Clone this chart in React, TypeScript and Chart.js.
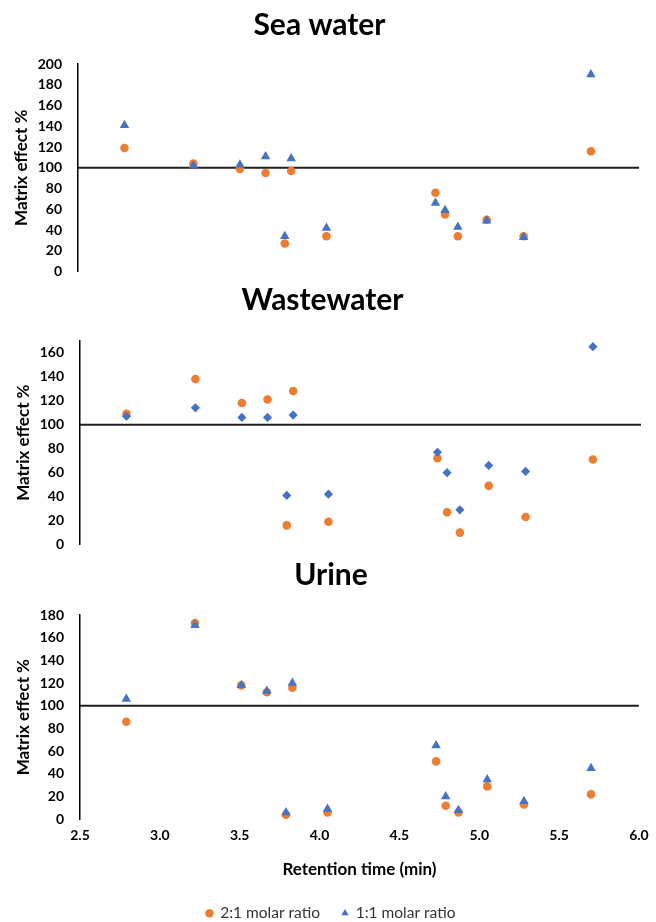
import React, { useEffect, useRef } from "react";
import { Chart, registerables } from "chart.js";

Chart.register(...registerables);

// ---------- data ----------
const retentionTime = [2.79, 3.22, 3.51, 3.67, 3.79, 3.83, 4.05, 4.73, 4.79, 4.87, 5.05, 5.28, 5.7];

const seaWater21 = [119, 104, 99, 95, 27, 97, 34, 76, 55, 34, 50, 34, 116];
const seaWater11 = [141, 102, 103, 111, 34, 109, 42, 66, 59, 43, 49, 33, 190];

const wastewater21 = [109, 138, 118, 121, 16, 128, 19, 72, 27, 10, 49, 23, 71];
const wastewater11 = [107, 114, 106, 106, 41, 108, 42, 77, 60, 29, 66, 61, 165];

const urine21 = [86, 173, 118, 112, 4, 116, 6, 51, 12, 6, 29, 13, 22];
const urine11 = [106, 171, 118, 113, 6, 120, 9, 65, 20, 8, 35, 16, 45];

const xTicks = [2.5, 3.0, 3.5, 4.0, 4.5, 5.0, 5.5, 6.0];
const seaYTicks = [0, 20, 40, 60, 80, 100, 120, 140, 160, 180, 200];
const wasteYTicks = [0, 20, 40, 60, 80, 100, 120, 140, 160];
const urineYTicks = [0, 20, 40, 60, 80, 100, 120, 140, 160, 180];

const referenceLevel = 100;
const referenceX = [2.5, 6.0];

const seriesLabels = ["2:1 molar ratio", "1:1 molar ratio"];

// ---------- styles ----------
const ORANGE = "#ED7D31";
const BLUE = "#4472C4";
const FONT = "Lato, 'Open Sans', sans-serif";

type PanelSpec = {
  title: string;
  orange: number[];
  blue: number[];
  blueStyle: string;
  blueRadius: number;
  yMax: number;
  yTicks: number[];
  top: number;
  height: number;
  padLeft: number;
  yWidth: number;
  padRight: number;
  padBottom: number;
  titlePadTop: number;
  titlePadBottom: number;
  yTitlePad: number;
  bottom: boolean;
};

function buildConfig(p: PanelSpec): any {
  const pts = (vals: number[]) => retentionTime.map((x, i) => ({ x, y: vals[i] }));
  return {
    type: "scatter",
    data: {
      datasets: [
        {
          label: seriesLabels[0],
          data: pts(p.orange),
          pointStyle: "circle",
          pointRadius: 4.3,
          backgroundColor: ORANGE,
          borderColor: ORANGE,
          borderWidth: 0,
          order: 2,
        },
        {
          label: seriesLabels[1],
          data: pts(p.blue),
          pointStyle: p.blueStyle,
          pointRadius: p.blueRadius,
          backgroundColor: BLUE,
          borderColor: BLUE,
          borderWidth: 0,
          order: 1,
        },
        {
          type: "line",
          label: "ref",
          data: referenceX.map((x) => ({ x, y: referenceLevel })),
          borderColor: "#1f1f1f",
          borderWidth: 2,
          pointRadius: 0,
          showLine: true,
          fill: false,
          order: 3,
        },
      ],
    },
    options: {
      responsive: false,
      animation: false,
      events: [],
      layout: { padding: { left: p.padLeft, right: p.padRight, top: 0, bottom: p.padBottom } },
      plugins: {
        tooltip: { enabled: false },
        title: {
          display: true,
          text: p.title,
          color: "#000",
          font: { family: FONT, size: 30, weight: "bold", lineHeight: 1 },
          padding: { top: p.titlePadTop, bottom: p.titlePadBottom },
        },
        legend: p.bottom
          ? {
              display: true,
              position: "bottom",
              labels: {
                usePointStyle: true,
                boxHeight: 6,
                boxWidth: 6,
                padding: 22,
                color: "#333",
                font: { family: FONT, size: 15.5 },
                filter: (item: any) => item.datasetIndex < 2,
                sort: (a: any, b: any) => a.datasetIndex - b.datasetIndex,
              },
            }
          : { display: false },
      },
      scales: {
        x: {
          type: "linear",
          min: referenceX[0],
          max: referenceX[1],
          display: p.bottom,
          afterBuildTicks: (s: any) => {
            s.ticks = xTicks.map((v) => ({ value: v }));
          },
          ticks: {
            color: "#000",
            font: { family: FONT, size: 14, weight: "bold", lineHeight: 1.2 },
            padding: 7.3,
            maxRotation: 0,
            callback: (v: any) => Number(v).toFixed(1),
          },
          grid: { display: false, drawTicks: false },
          border: { display: false },
          title: {
            display: true,
            text: "Retention time (min)",
            color: "#000",
            font: { family: FONT, size: 17, weight: "bold", lineHeight: 1.2 },
            padding: { top: 9.1, bottom: 3.3 },
          },
        },
        y: {
          type: "linear",
          min: 0,
          max: p.yMax,
          afterBuildTicks: (s: any) => {
            s.ticks = p.yTicks.map((v) => ({ value: v }));
          },
          afterFit: (s: any) => {
            s.width = p.yWidth;
          },
          ticks: {
            color: "#000",
            font: { family: FONT, size: 14, weight: "bold", lineHeight: 1.2 },
            padding: 16,
          },
          grid: { display: false, drawTicks: false },
          border: { display: true, color: "#000", width: 1.5 },
          title: {
            display: true,
            text: "Matrix effect %",
            color: "#000",
            font: { family: FONT, size: 17, weight: "bold", lineHeight: 1.2 },
            padding: { top: p.yTitlePad, bottom: 0 },
          },
        },
      },
    },
  };
}

function Panel({ spec }: { spec: PanelSpec }) {
  const ref = useRef<HTMLCanvasElement | null>(null);
  useEffect(() => {
    if (!ref.current) return;
    const chart = new Chart(ref.current, buildConfig(spec));
    return () => chart.destroy();
  }, [spec]);
  return (
    <canvas
      ref={ref}
      width={656}
      height={spec.height}
      style={{ position: "absolute", left: 0, top: spec.top, width: 656, height: spec.height }}
    />
  );
}

const panels: PanelSpec[] = [
  {
    title: "Sea water",
    orange: seaWater21,
    blue: seaWater11,
    blueStyle: "triangle",
    blueRadius: 5.5,
    yMax: 200,
    yTicks: seaYTicks,
    top: 0,
    height: 296,
    padLeft: 0,
    yWidth: 78,
    padRight: 17,
    padBottom: 0,
    titlePadTop: 10,
    titlePadBottom: 24,
    yTitlePad: 11.8,
    bottom: false,
  },
  {
    title: "Wastewater",
    orange: wastewater21,
    blue: wastewater11,
    blueStyle: "rectRot",
    blueRadius: 4.6,
    yMax: 170,
    yTicks: wasteYTicks,
    top: 283,
    height: 286,
    padLeft: 4,
    yWidth: 76,
    padRight: 15,
    padBottom: 0,
    titlePadTop: 2,
    titlePadBottom: 25.7,
    yTitlePad: 9.8,
    bottom: false,
  },
  {
    title: "Urine",
    orange: urine21,
    blue: urine11,
    blueStyle: "triangle",
    blueRadius: 5.5,
    yMax: 180,
    yTicks: urineYTicks,
    top: 560,
    height: 371,
    padLeft: 20,
    yWidth: 60,
    padRight: 14,
    padBottom: 0,
    titlePadTop: 0.5,
    titlePadBottom: 24.5,
    yTitlePad: -6.2,
    bottom: true,
  },
];

export default function App() {
  return (
    <div
      style={{
        position: "absolute",
        left: 0,
        top: 0,
        width: 656,
        height: 922,
        overflow: "hidden",
        background: "#fff",
      }}
    >
      {panels.map((p) => (
        <Panel key={p.title} spec={p} />
      ))}
    </div>
  );
}
